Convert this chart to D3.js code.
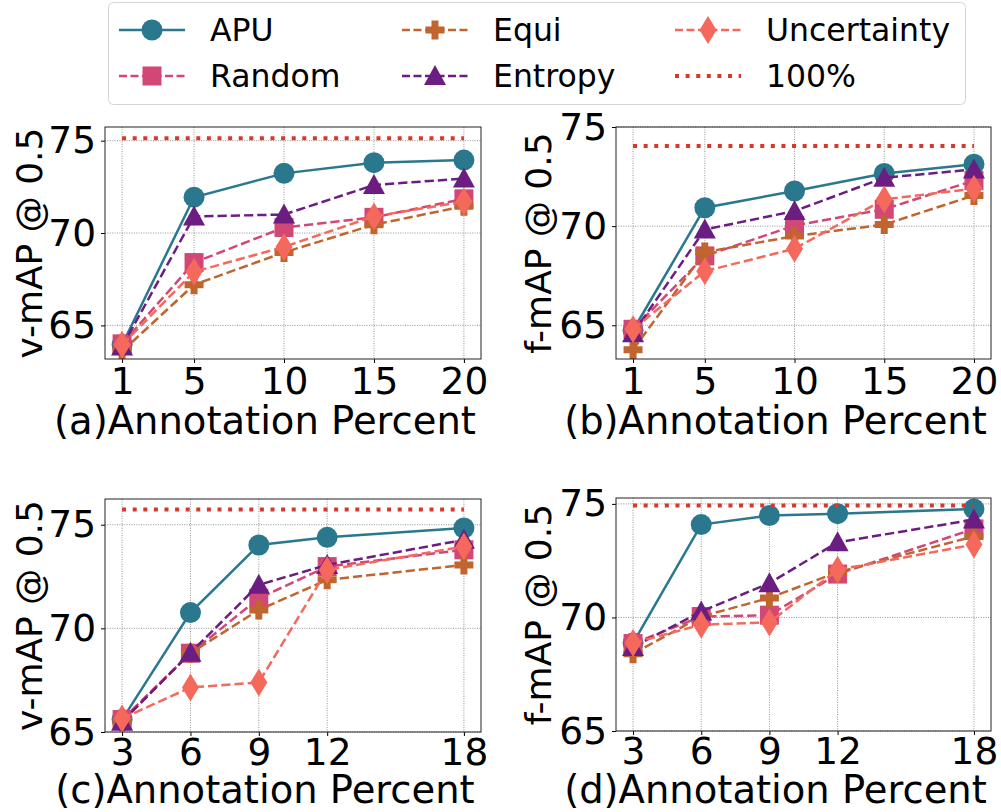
<!DOCTYPE html>
<html>
<head>
<meta charset="utf-8">
<script src="https://cdn.jsdelivr.net/npm/d3@7"></script>
<style>
  html, body { margin: 0; padding: 0; background: #fff; }
  svg { display: block; font-family: "DejaVu Sans", sans-serif; }
</style>
</head>
<body>
<div id="chart"></div>
<script>
// series names, in the order the rows of each panel array follow
const seriesNames = ["APU", "Random", "Equi", "Entropy", "Uncertainty"];

const xLow = [1, 5, 10, 15, 20];
const xHigh = [3, 6, 9, 12, 18];

// (a) v-mAP, first split
const vmapA = [
    [63.95, 71.94, 73.23, 73.81, 73.95],
    [64.0, 68.4, 70.3, 70.85, 71.85],
    [63.6, 67.2, 68.95, 70.45, 71.45],
    [63.85, 70.9, 71.0, 72.6, 72.95],
    [63.95, 67.9, 69.25, 70.9, 71.7]
];
// (b) f-mAP, first split
const fmapB = [
    [64.75, 70.93, 71.77, 72.66, 73.12],
    [64.8, 68.5, 70.03, 70.85, 72.3],
    [63.77, 68.69, 69.5, 70.08, 71.55],
    [64.6, 69.83, 70.76, 72.44, 72.86],
    [64.8, 67.73, 68.86, 71.35, 71.89]
];
// (c) v-mAP, second split
const vmapC = [
    [65.6, 70.76, 74.02, 74.39, 74.84],
    [65.6, 68.8, 71.45, 72.98, 73.79],
    [65.5, 68.8, 70.89, 72.34, 73.06],
    [65.5, 68.82, 72.1, 73.06, 74.27],
    [65.65, 67.15, 67.39, 72.82, 73.95]
];
// (d) f-mAP, second split
const fmapD = [
    [68.87, 74.09, 74.49, 74.57, 74.78],
    [68.85, 70.04, 70.1, 71.91, 73.9],
    [68.4, 70.04, 70.86, 71.99, 73.57],
    [68.7, 70.26, 71.51, 73.31, 74.31],
    [68.87, 69.68, 69.78, 72.1, 73.21]
];
// 100% annotation reference values
const fullValues = [75.13, 74.04, 75.73, 74.93];
const yTicks = [65, 70, 75];

// ---- styles / layout ----
const width = 1001, height = 812;
const colors = {
    APU: "#2a788e", Random: "#d14776", Equi: "#c1652f",
    Entropy: "#6b1d81", Uncertainty: "#f5685c", full: "#d7382b"
};
const dashed = "9.25,4";

const panels = [
    { data: vmapA, xs: xLow, xDom: [0.05, 20.95], yDom: [63.18, 75.74], box: [105, 127, 481, 359], ylab: "v-mAP @ 0.5", tag: "(a)", ylabX: 42, xlabY: 434, tickPad: 4 },
    { data: fmapB, xs: xLow, xDom: [0.05, 20.95], yDom: [63.3, 75.0], box: [616, 127, 991, 359], ylab: "f-mAP @ 0.5", tag: "(b)", ylabX: 551, xlabY: 434, tickPad: 4 },
    { data: vmapC, xs: xHigh, xDom: [2.25, 18.75], yDom: [65, 76.24], box: [105, 499, 481, 732], ylab: "v-mAP @ 0.5", tag: "(c)", ylabX: 42, xlabY: 803, tickPad: 2 },
    { data: fmapD, xs: xHigh, xDom: [2.25, 18.75], yDom: [65, 75.26], box: [616, 498, 991, 731], ylab: "f-mAP @ 0.5", tag: "(d)", ylabX: 551, xlabY: 803, tickPad: 2 }
];

const svg = d3.select("#chart").append("svg")
    .attr("width", width)
    .attr("height", height)
    .attr("viewBox", [0, 0, width, height]);

// marker drawing, centred on 0,0
function drawMarker(g, name) {
    const c = colors[name];
    if (name === "APU") {
        g.append("circle").attr("r", 10.5).attr("fill", c);
    } else if (name === "Random") {
        g.append("rect").attr("x", -9.5).attr("y", -9.5).attr("width", 19).attr("height", 19).attr("fill", c);
    } else if (name === "Equi") {
        g.append("path").attr("d", "M-3.5,-9.5H3.5V-3.5H9.5V3.5H3.5V9.5H-3.5V3.5H-9.5V-3.5H-3.5Z").attr("fill", c);
    } else if (name === "Entropy") {
        g.append("path").attr("d", "M0,-11L11,9L-11,9Z").attr("fill", c);
    } else if (name === "Uncertainty") {
        g.append("path").attr("d", "M0,-14L8.5,0L0,14L-8.5,0Z").attr("fill", c);
    }
}

panels.forEach((p, pi) => {
    const [x0, y0, x1, y1] = p.box;
    const x = d3.scaleLinear().domain(p.xDom).range([x0, x1]);
    const y = d3.scaleLinear().domain(p.yDom).range([y1, y0]);
    const clipId = "clip" + pi;

    svg.append("clipPath").attr("id", clipId)
        .append("rect").attr("x", x0).attr("y", y0).attr("width", x1 - x0).attr("height", y1 - y0);

    const g = svg.append("g");

    // grid
    const grid = g.append("g")
        .attr("stroke", "#777")
        .attr("stroke-width", 0.8)
        .attr("stroke-dasharray", "1,1.4");
    grid.selectAll(".gx").data(p.xs).join("line")
        .attr("x1", d => x(d)).attr("x2", d => x(d))
        .attr("y1", y0).attr("y2", y1);
    grid.selectAll(".gy").data(yTicks.filter(t => t >= p.yDom[0] && t <= p.yDom[1])).join("line")
        .attr("y1", d => y(d)).attr("y2", d => y(d))
        .attr("x1", x0).attr("x2", x1);

    const plot = g.append("g").attr("clip-path", `url(#${clipId})`);

    const line = d3.line().x((d, i) => x(p.xs[i])).y(d => y(d));

    seriesNames.forEach((name, si) => {
        const vals = p.data[si];
        plot.append("path")
            .datum(vals)
            .attr("fill", "none")
            .attr("stroke", colors[name])
            .attr("stroke-width", 2.5)
            .attr("stroke-dasharray", name === "APU" ? null : dashed)
            .attr("d", line);
        vals.forEach((v, i) => {
            const m = plot.append("g").attr("transform", `translate(${x(p.xs[i])},${y(v)})`);
            drawMarker(m, name);
        });
    });

    // 100% reference
    plot.append("path")
        .datum(p.xs.map(() => fullValues[pi]))
        .attr("fill", "none")
        .attr("stroke", colors.full)
        .attr("stroke-width", 4)
        .attr("stroke-dasharray", "4,6.6")
        .attr("d", line);

    // axes
    const xAxis = g.append("g")
        .attr("transform", `translate(0,${y1})`)
        .call(d3.axisBottom(x).tickValues(p.xs).tickSize(4).tickPadding(p.tickPad).tickSizeOuter(0));
    xAxis.select(".domain").remove();
    xAxis.selectAll("text").attr("font-size", 37.5).attr("font-family", "DejaVu Sans").attr("fill", "#000").attr("dy", "0.72em");

    const yAxis = g.append("g")
        .attr("transform", `translate(${x0},0)`)
        .call(d3.axisLeft(y).tickValues(yTicks.filter(t => t >= p.yDom[0] && t <= p.yDom[1])).tickSize(4).tickPadding(5).tickSizeOuter(0));
    yAxis.select(".domain").remove();
    yAxis.selectAll("text").attr("font-size", 37.5).attr("font-family", "DejaVu Sans").attr("fill", "#000");

    // frame
    g.append("rect")
        .attr("x", x0).attr("y", y0)
        .attr("width", x1 - x0).attr("height", y1 - y0)
        .attr("fill", "none").attr("stroke", "#222").attr("stroke-width", 1);

    // labels
    g.append("text")
        .attr("transform", `translate(${p.ylabX},${(y0 + y1) / 2}) rotate(-90)`)
        .attr("text-anchor", "middle")
        .attr("font-size", 36)
        .text(p.ylab);

    g.append("text")
        .attr("x", (x0 + x1) / 2 - 28)
        .attr("y", p.xlabY)
        .attr("text-anchor", "middle")
        .attr("font-size", 38.5)
        .text(p.tag + "Annotation Percent");
});

// legend
const legend = svg.append("g");
legend.append("rect")
    .attr("x", 108.5).attr("y", 2.5).attr("width", 857).attr("height", 102)
    .attr("rx", 5)
    .attr("fill", "#fff").attr("stroke", "#d4d4d4").attr("stroke-width", 1);

const legendItems = ["APU", "Random", "Equi", "Entropy", "Uncertainty", "100%"];
const colX = [119, 402, 675];
const rowY = [30, 76];
legendItems.forEach((name, i) => {
    const cx = colX[Math.floor(i / 2)], cy = rowY[i % 2];
    const item = legend.append("g").attr("transform", `translate(${cx},${cy})`);
    if (name === "100%") {
        item.append("line").attr("x1", 0).attr("x2", 66)
            .attr("stroke", colors.full).attr("stroke-width", 4).attr("stroke-dasharray", "4,6.6");
    } else {
        item.append("line").attr("x1", 0).attr("x2", 66)
            .attr("stroke", colors[name]).attr("stroke-width", 2.5)
            .attr("stroke-dasharray", name === "APU" ? null : "8,3.5");
        drawMarker(item.append("g").attr("transform", "translate(33,0)"), name);
    }
    item.append("text")
        .attr("x", 91).attr("y", 0).attr("dy", "0.36em")
        .attr("font-size", 31.5)
        .text(name);
});
</script>
</body>
</html>
